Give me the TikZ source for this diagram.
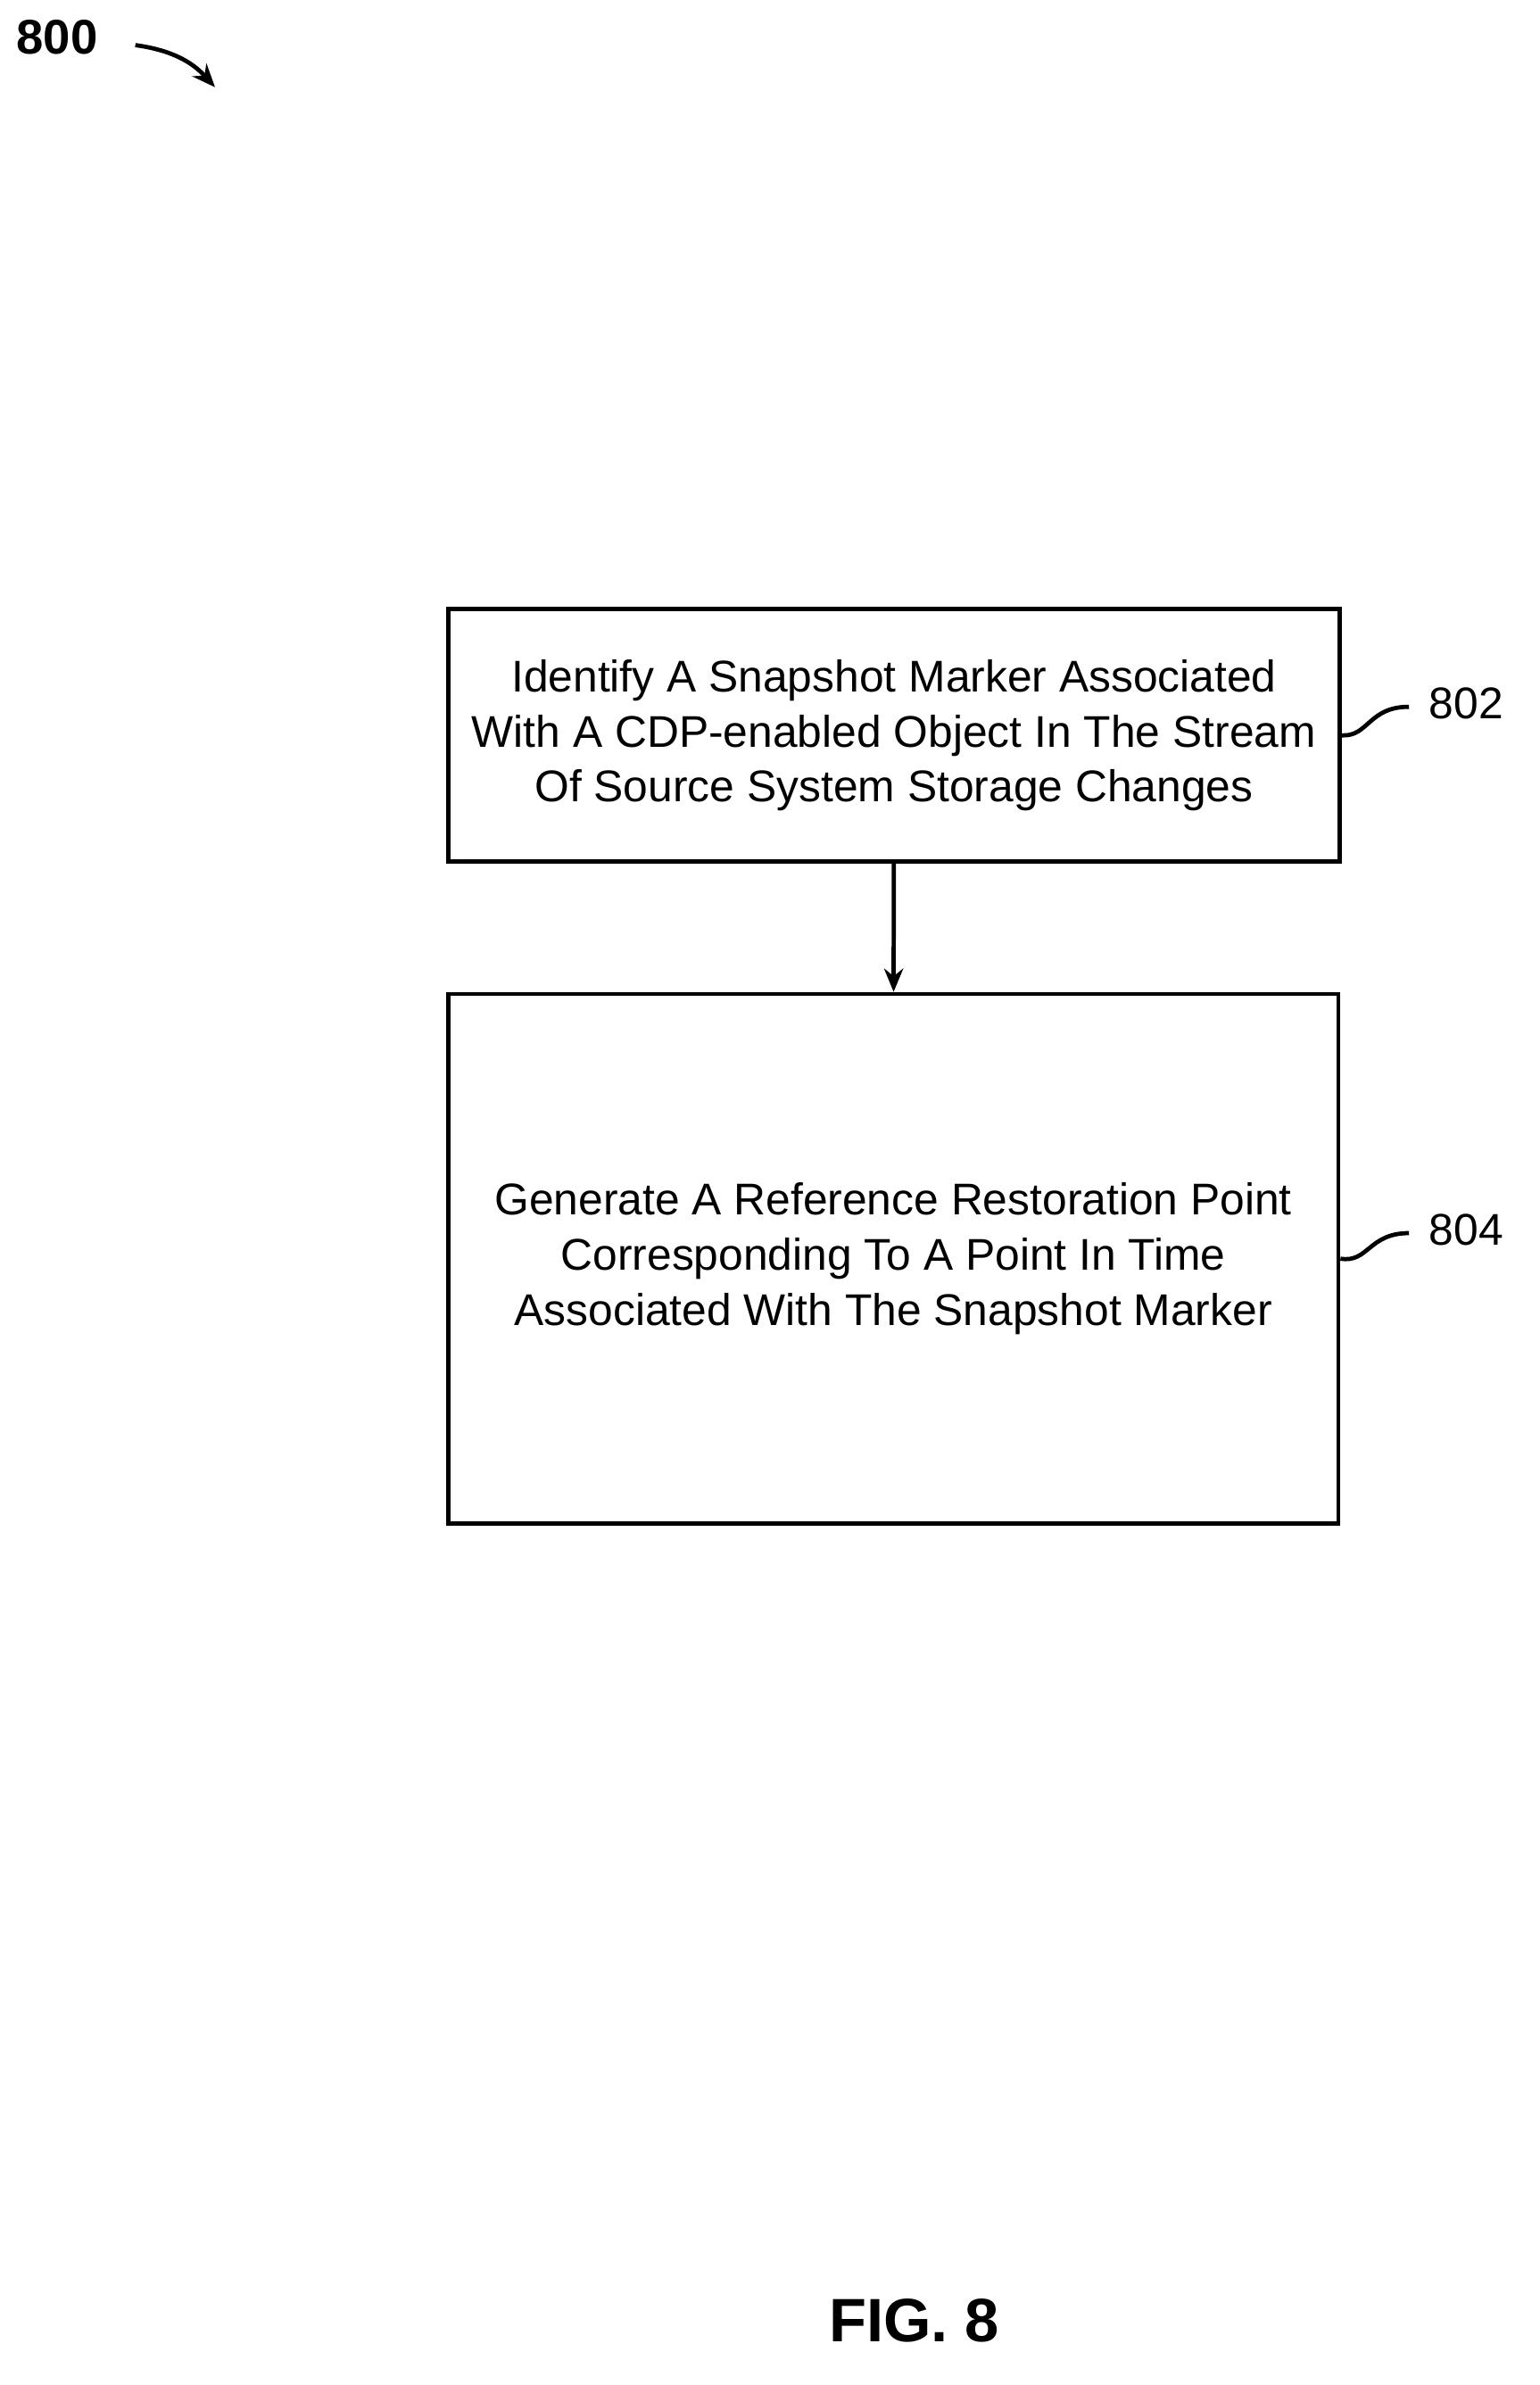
\documentclass[tikz,border=0pt]{standalone}
\usepackage{fontspec}
\setmainfont{Liberation Sans}
\usetikzlibrary{positioning,arrows.meta}
\tikzset{
  flowstep/.style={draw, line width=2pt, align=center, font=\fontsize{21}{26}\selectfont},
  ref/.style={font=\fontsize{21}{24}\selectfont},
}
\begin{document}
\begin{tikzpicture}[x=0.025cm, y=-0.025cm, >={Stealth[length=11pt,width=9pt]}]
  \useasboundingbox (0,0) rectangle (1024,1586);

  \node[font=\bfseries\fontsize{23}{26}\selectfont] (fig) at (38,25) {800};
  \coordinate (figA) at (90,30);
  \coordinate (figB) at (143,58);
  \draw[->, line width=2pt] (figA) to[bend left=20] (figB);

  \node[flowstep, minimum width=593*0.025cm, minimum height=168*0.025cm] (s802) at (594.5,489)
    {Identify A Snapshot Marker Associated\\With A CDP-enabled Object In The Stream\\Of Source System Storage Changes};
  \node[flowstep, minimum width=592*0.025cm, minimum height=352*0.025cm] (s804) at (594,837)
    {Generate A Reference Restoration Point\\Corresponding To A Point In Time\\Associated With The Snapshot Marker};
  \draw[->, line width=2pt] (s802) -- (s804);

  \node[ref] (r802) at (975,468) {802};
  \node[ref] (r804) at (975,818) {804};
  \coordinate (e802) at (937,470);
  \coordinate (e804) at (937,820);
  \draw[line width=2pt] (s802.east) .. controls (910,490) and (910,470) .. (e802);
  \draw[line width=2pt] (s804.east) .. controls (910,840) and (910,820) .. (e804);

  \node[font=\bfseries\fontsize{29}{32}\selectfont] (cap) at (608,1543) {FIG. 8};
\end{tikzpicture}
\end{document}
